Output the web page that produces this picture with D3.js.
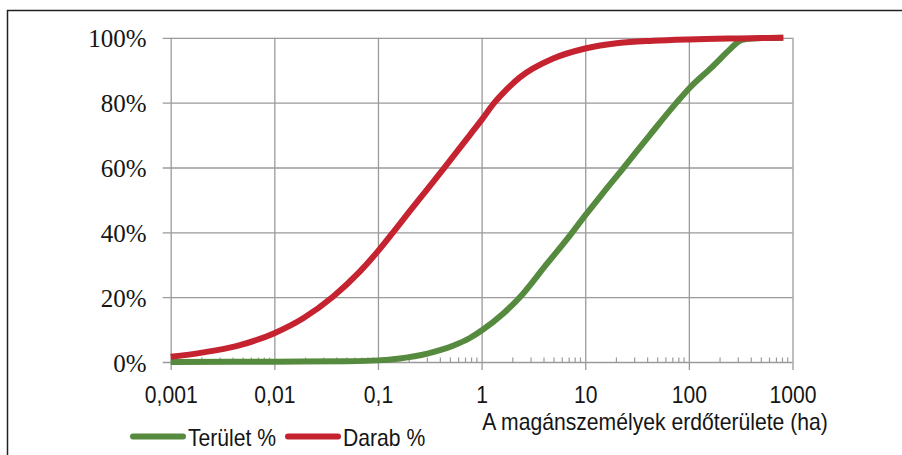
<!DOCTYPE html>
<html><head><meta charset="utf-8">
<script src="https://cdn.jsdelivr.net/npm/d3@7/dist/d3.min.js"></script>
<style>
html,body{margin:0;padding:0;background:#fff;}
svg{display:block;}
</style></head>
<body>
<svg id="c" width="902" height="455"></svg>
<script>
// ---- data ----
const teruletHa  = [0.001, 0.01, 0.05, 0.1, 0.162, 0.3, 0.53, 0.77, 1, 1.6, 2.5, 4.2, 7.1, 10, 14.9, 23, 42, 76, 100, 165, 250, 300, 360, 500, 815];
const teruletPct = [0, 0.1, 0.25, 0.5, 1.1, 2.6, 5.0, 7.4, 9.7, 14.8, 21, 30, 39, 45.2, 52.2, 59.6, 70, 80, 84.3, 90.8, 96.5, 98.8, 99.6, 99.9, 100];
const darabHa    = [0.001, 0.002, 0.0043, 0.01, 0.019, 0.037, 0.066, 0.1, 0.14, 0.2, 0.3, 0.44, 0.77, 1, 1.33, 1.7, 2.32, 4.9, 10, 21, 45, 100, 300, 815];
const darabPct   = [1.6, 2.9, 4.9, 8.9, 13.5, 20.2, 27.7, 34.2, 40, 46.3, 53.3, 60, 70, 74.7, 80, 83.7, 87.7, 93.6, 96.7, 98.4, 99.1, 99.5, 99.8, 100];
const xTickValues = [0.001, 0.01, 0.1, 1, 10, 100, 1000];
const xTickLabels = ["0,001", "0,01", "0,1", "1", "10", "100", "1000"];
const yTickValues = [0, 20, 40, 60, 80, 100];
const yTickLabels = ["0%", "20%", "40%", "60%", "80%", "100%"];
const seriesNames = ["Terület %", "Darab %"];
const xTitle = "A magánszemélyek erdőterülete (ha)";

// ---- layout ----
const L = 170.7, R = 792.5, T = 37.8, B = 362;
const svg = d3.select("#c");
const x = d3.scaleLog().domain([0.001, 1000]).range([L, R]);
const y = d3.scaleLinear().domain([0, 100]).range([B, T]);
const gridCol = "#9a9a9a";
const colors = ["#568a3e", "#c4232f"];
const sans = "'Liberation Sans',Arial,sans-serif";
const sx = 0.92;

// outer frame (left and top edges visible)
svg.append("path").attr("d", "M7.5,460 L7.5,10.5 L910,10.5")
  .attr("fill", "none").attr("stroke", "#222").attr("stroke-width", 1.5);

// y axis with gridlines
const yAxis = d3.axisLeft(y).tickValues(yTickValues)
  .tickFormat((d, i) => yTickLabels[i]).tickSize(0).tickPadding(0);
const gy = svg.append("g").attr("transform", `translate(${L},0)`).call(yAxis);
gy.select(".domain").remove();
gy.selectAll(".tick line").attr("x1", -8).attr("x2", R - L)
  .attr("stroke", gridCol).attr("stroke-width", 1.3);
gy.selectAll(".tick text").attr("x", -24).attr("dy", "0.36em")
  .attr("font-family", "'Liberation Serif','Times New Roman',serif")
  .attr("font-size", 25).attr("fill", "#151515");

// x axis: vertical gridlines + major ticks below
const xAxis = d3.axisBottom(x).tickValues(xTickValues)
  .tickFormat((d, i) => xTickLabels[i]).tickSize(0).tickPadding(0);
const gx = svg.append("g").attr("transform", `translate(0,${B})`).call(xAxis);
gx.select(".domain").remove();
gx.selectAll(".tick line").attr("y1", T - B).attr("y2", 8)
  .attr("stroke", gridCol).attr("stroke-width", 1.3);
gx.selectAll(".tick text").attr("y", 0).attr("dy", 0)
  .attr("font-family", sans)
  .attr("font-size", 23).attr("fill", "#151515")
  .attr("transform", `translate(0,41) scale(${sx},1)`);

// minor ticks (2..9 in each decade), inward
const minor = [];
for (let e = -3; e < 3; e++) for (let m = 2; m <= 9; m++) minor.push(m * Math.pow(10, e));
svg.append("g").selectAll("line").data(minor).join("line")
  .attr("x1", d => x(d)).attr("x2", d => x(d))
  .attr("y1", B).attr("y2", B - 4.5)
  .attr("stroke", gridCol).attr("stroke-width", 1.2);

// x title
svg.append("text").text(xTitle)
  .attr("transform", `translate(655,430) scale(${sx},1)`)
  .attr("text-anchor", "middle")
  .attr("font-family", sans)
  .attr("font-size", 23).attr("fill", "#151515");

// curves
const line = d3.line().x(d => x(d[0])).y(d => y(d[1])).curve(d3.curveMonotoneX);
const series = [[teruletHa, teruletPct], [darabHa, darabPct]];
series.forEach(([xs, vals], i) => {
  svg.append("path").datum(xs.map((a, j) => [a, vals[j]]))
    .attr("d", line).attr("fill", "none")
    .attr("stroke", colors[i]).attr("stroke-width", 6)
    .attr("stroke-linejoin", "round").attr("stroke-linecap", "butt");
});

// legend
const leg = [{x1: 133, x2: 183, tx: 188}, {x1: 288, x2: 338, tx: 343}];
seriesNames.forEach((name, i) => {
  svg.append("line").attr("x1", leg[i].x1).attr("x2", leg[i].x2)
    .attr("y1", 436.5).attr("y2", 436.5)
    .attr("stroke", colors[i]).attr("stroke-width", 6).attr("stroke-linecap", "round");
  svg.append("text").text(name)
    .attr("transform", `translate(${leg[i].tx},446) scale(${sx},1)`)
    .attr("font-family", sans)
    .attr("font-size", 23).attr("fill", "#151515");
});
</script>
</body></html>
